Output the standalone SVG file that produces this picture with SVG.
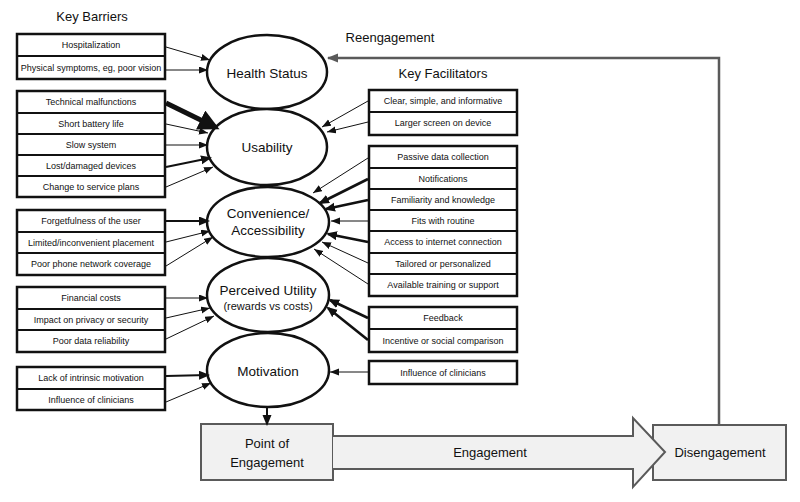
<svg xmlns="http://www.w3.org/2000/svg" width="800" height="502" viewBox="0 0 800 502">
<style>
text{font-family:"Liberation Sans",Arial,sans-serif;fill:#111;text-anchor:middle}
.sm{font-size:9px}
.hd{font-size:13px}
.el{font-size:13.5px}
.box{fill:#fff;stroke:#111;stroke-width:2.5}
.div{stroke:#111;stroke-width:1.8}
.ell{fill:#fff;stroke:#111;stroke-width:2.5}
.gbox{fill:#f1f1f1;stroke:#5a5a5a;stroke-width:2}
.a1{stroke:#111;stroke-width:1;fill:none;marker-end:url(#ah)}
.a2{stroke:#111;stroke-width:2;fill:none;marker-end:url(#ah2)}
.a3{stroke:#111;stroke-width:2.7;fill:none;marker-end:url(#ah3)}
</style>
<defs>
<marker id="ah" markerUnits="userSpaceOnUse" markerWidth="10" markerHeight="8" refX="9" refY="3.5" orient="auto"><path d="M0,0 L9,3.5 L0,7 z" fill="#111"/></marker>
<marker id="ah2" markerUnits="userSpaceOnUse" markerWidth="12" markerHeight="10" refX="9" refY="4.5" orient="auto"><path d="M0,0 L11,4.5 L0,9 z" fill="#111"/></marker>
<marker id="ah3" markerUnits="userSpaceOnUse" markerWidth="12" markerHeight="10" refX="9" refY="4.5" orient="auto"><path d="M0,0 L11,4.5 L0,9 z" fill="#111"/></marker>
<marker id="ahBig" markerUnits="userSpaceOnUse" markerWidth="24" markerHeight="24" refX="16" refY="10.5" orient="auto"><path d="M0,0 L21,10.5 L0,21 z" fill="#111"/></marker>
<marker id="ahG" markerUnits="userSpaceOnUse" markerWidth="12" markerHeight="10" refX="10" refY="4.5" orient="auto"><path d="M0,0 L11,4.5 L0,9 z" fill="#5a5a5a"/></marker>
</defs>
<rect width="800" height="502" fill="#fff"/>

<g id="headings">
<text class="hd" x="92" y="21">Key Barriers</text>
<text class="hd" x="390" y="42">Reengagement</text>
<text class="hd" x="443" y="78">Key Facilitators</text>
</g>

<g id="barriers-health">
<rect class="box" x="17" y="34" width="148" height="45"/>
<line class="div" x1="17" y1="56" x2="165" y2="56"/>
<text class="sm" x="91" y="48">Hospitalization</text>
<text class="sm" x="91" y="71">Physical symptoms, eg, poor vision</text>
</g>
<g id="barriers-usability">
<rect class="box" x="17" y="91" width="148" height="106"/>
<line class="div" x1="17" y1="113" x2="165" y2="113"/>
<line class="div" x1="17" y1="134" x2="165" y2="134"/>
<line class="div" x1="17" y1="155" x2="165" y2="155"/>
<line class="div" x1="17" y1="176" x2="165" y2="176"/>
<text class="sm" x="91" y="105">Technical malfunctions</text>
<text class="sm" x="91" y="127">Short battery life</text>
<text class="sm" x="91" y="148">Slow system</text>
<text class="sm" x="91" y="169">Lost/damaged devices</text>
<text class="sm" x="91" y="190">Change to service plans</text>
</g>
<g id="barriers-convenience">
<rect class="box" x="17" y="210" width="148" height="65"/>
<line class="div" x1="17" y1="232" x2="165" y2="232"/>
<line class="div" x1="17" y1="253" x2="165" y2="253"/>
<text class="sm" x="91" y="224">Forgetfulness of the user</text>
<text class="sm" x="91" y="246">Limited/inconvenient placement</text>
<text class="sm" x="91" y="267">Poor phone network coverage</text>
</g>
<g id="barriers-utility">
<rect class="box" x="17" y="287" width="148" height="65"/>
<line class="div" x1="17" y1="309" x2="165" y2="309"/>
<line class="div" x1="17" y1="330" x2="165" y2="330"/>
<text class="sm" x="91" y="301">Financial costs</text>
<text class="sm" x="91" y="323">Impact on privacy or security</text>
<text class="sm" x="91" y="344">Poor data reliability</text>
</g>
<g id="barriers-motivation">
<rect class="box" x="17" y="367" width="148" height="43"/>
<line class="div" x1="17" y1="389" x2="165" y2="389"/>
<text class="sm" x="91" y="381">Lack of intrinsic motivation</text>
<text class="sm" x="91" y="403">Influence of clinicians</text>
</g>

<g id="facilitators-usability">
<rect class="box" x="369" y="90" width="148" height="45"/>
<line class="div" x1="369" y1="112" x2="517" y2="112"/>
<text class="sm" x="443" y="104">Clear, simple, and informative</text>
<text class="sm" x="443" y="126">Larger screen on device</text>
</g>
<g id="facilitators-convenience">
<rect class="box" x="369" y="146" width="148" height="150"/>
<line class="div" x1="369" y1="168" x2="517" y2="168"/>
<line class="div" x1="369" y1="189" x2="517" y2="189"/>
<line class="div" x1="369" y1="210" x2="517" y2="210"/>
<line class="div" x1="369" y1="231" x2="517" y2="231"/>
<line class="div" x1="369" y1="253" x2="517" y2="253"/>
<line class="div" x1="369" y1="274" x2="517" y2="274"/>
<text class="sm" x="443" y="160">Passive data collection</text>
<text class="sm" x="443" y="182">Notifications</text>
<text class="sm" x="443" y="203">Familiarity and knowledge</text>
<text class="sm" x="443" y="224">Fits with routine</text>
<text class="sm" x="443" y="245">Access to internet connection</text>
<text class="sm" x="443" y="267">Tailored or personalized</text>
<text class="sm" x="443" y="288">Available training or support</text>
</g>
<g id="facilitators-utility">
<rect class="box" x="369" y="307" width="148" height="45"/>
<line class="div" x1="369" y1="329" x2="517" y2="329"/>
<text class="sm" x="443" y="321">Feedback</text>
<text class="sm" x="443" y="344">Incentive or social comparison</text>
</g>
<g id="facilitators-motivation">
<rect class="box" x="369" y="361" width="148" height="23"/>
<text class="sm" x="443" y="376">Influence of clinicians</text>
</g>

<g id="health-status">
<ellipse class="ell" cx="267" cy="72" rx="60" ry="37"/>
<text class="el" x="267" y="78">Health Status</text>
</g>
<g id="usability">
<ellipse class="ell" cx="267" cy="147" rx="60" ry="38"/>
<text class="el" x="267" y="152">Usability</text>
</g>
<g id="convenience">
<ellipse class="ell" cx="268" cy="222" rx="61" ry="35"/>
<text class="el" x="268" y="218">Convenience/</text>
<text class="el" x="268" y="235">Accessibility</text>
</g>
<g id="perceived-utility">
<ellipse class="ell" cx="268" cy="295" rx="61" ry="37"/>
<text class="el" x="268" y="295">Perceived Utility</text>
<text x="268" y="310" style="font-size:11px">(rewards vs costs)</text>
</g>
<g id="motivation">
<ellipse class="ell" cx="268" cy="370" rx="61" ry="37"/>
<text class="el" x="268" y="376">Motivation</text>
</g>

<g id="point-of-engagement">
<rect class="gbox" x="201" y="424" width="132" height="56"/>
<text class="hd" x="267" y="448">Point of</text>
<text class="hd" x="267" y="467">Engagement</text>
</g>
<g id="disengagement">
<rect class="gbox" x="653" y="425" width="133" height="55"/>
<text class="hd" x="720" y="457">Disengagement</text>
</g>
<g id="engagement">
<path d="M333,436 L633,436 L633,418 L665,452 L633,487 L633,469 L333,469" fill="#f1f1f1" stroke="none"/>
<path d="M333,436 L633,436 L633,418 L665,452 L633,487 L633,469 L333,469" fill="none" stroke="#5a5a5a" stroke-width="2"/>
<text class="hd" x="490" y="457">Engagement</text>
</g>

<g id="connectors">
<line class="a1" x1="166" y1="47" x2="210" y2="60"/>
<line class="a1" x1="166" y1="70" x2="208" y2="70"/>
<line x1="166" y1="103" x2="215" y2="127" stroke="#111" stroke-width="5" marker-end="url(#ahBig)"/>
<line class="a1" x1="166" y1="124" x2="208" y2="133"/>
<line class="a1" x1="166" y1="145" x2="208" y2="145"/>
<line class="a2" x1="166" y1="167" x2="210" y2="158"/>
<line class="a1" x1="166" y1="187" x2="213" y2="167"/>
<line class="a2" x1="166" y1="221" x2="208" y2="221"/>
<line class="a1" x1="166" y1="242" x2="210" y2="231"/>
<line class="a1" x1="166" y1="266" x2="213" y2="237"/>
<line class="a1" x1="166" y1="298" x2="208" y2="298" stroke-width="1.4"/>
<line class="a1" x1="166" y1="318" x2="210" y2="308"/>
<line class="a1" x1="166" y1="339" x2="214" y2="316"/>
<line class="a2" x1="166" y1="376" x2="208" y2="375"/>
<line class="a1" x1="166" y1="402" x2="211" y2="383"/>

<line class="a1" x1="368" y1="101" x2="322" y2="127"/>
<line class="a1" x1="368" y1="122" x2="327" y2="132"/>
<line class="a1" x1="368" y1="158" x2="313" y2="193"/>
<line class="a3" x1="368" y1="179" x2="320" y2="203"/>
<line class="a3" x1="368" y1="200" x2="326" y2="209"/>
<line class="a1" x1="368" y1="221" x2="331" y2="221"/>
<line class="a3" x1="368" y1="242" x2="328" y2="234"/>
<line class="a1" x1="368" y1="263" x2="322" y2="242"/>
<line class="a1" x1="368" y1="284" x2="314" y2="249" stroke-width="1.5"/>
<line class="a3" x1="368" y1="318" x2="330" y2="300"/>
<line class="a3" x1="368" y1="340" x2="328" y2="308"/>
<line class="a1" x1="368" y1="372" x2="330" y2="372"/>

<line class="a2" x1="267" y1="407" x2="267" y2="424"/>
<path d="M719,425 L719,58 L328,58" fill="none" stroke="#5a5a5a" stroke-width="2.5" marker-end="url(#ahG)"/>
</g>
</svg>
